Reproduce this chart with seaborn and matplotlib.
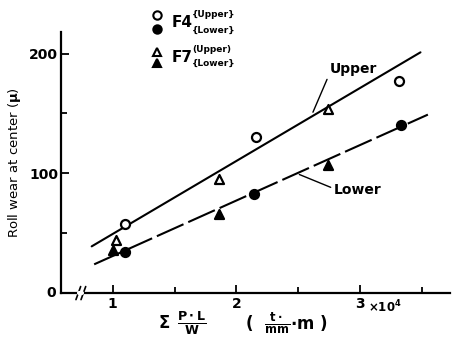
import numpy as np
import pandas as pd
import matplotlib
matplotlib.use("Agg")
import matplotlib.pyplot as plt
import seaborn as sns

# values (x in units of 1e4 t/mm*m, y in microns)
f4_upper_x = [1.10, 2.16, 3.32]
f4_upper_y = [58, 130, 177]
f4_lower_x = [1.10, 2.14, 3.33]
f4_lower_y = [34, 83, 140]
f7_upper_x = [1.03, 1.86, 2.74]
f7_upper_y = [44, 95, 154]
f7_lower_x = [1.00, 1.86, 2.74]
f7_lower_y = [36, 66, 107]

upper_line_x = [0.83, 3.49]
upper_line_y = [39, 201]
lower_line_x = [0.85, 3.55]
lower_line_y = [24, 149]

x_ticks = [1, 2, 3]
x_minor = [1.5, 2.5, 3.5]
y_ticks = [100, 200]
y_minor = [50, 150]

sns.set_style("ticks")
plt.rcParams['font.family'] = ['DejaVu Sans']
plt.rcParams['font.weight'] = 'bold'
plt.rcParams['text.color'] = 'black'
plt.rcParams['xtick.color'] = 'black'
plt.rcParams['ytick.color'] = 'black'
plt.rcParams['axes.labelcolor'] = 'black'
plt.rcParams['axes.edgecolor'] = 'black'

fig = plt.figure(figsize=(4.57, 3.4), dpi=100)
ax = fig.add_axes([0.133, 0.138, 0.852, 0.768])

series = [
    (f4_upper_x, f4_upper_y, 'o', 'white'),
    (f4_lower_x, f4_lower_y, 'o', 'black'),
    (f7_upper_x, f7_upper_y, '^', 'white'),
    (f7_lower_x, f7_lower_y, '^', 'black'),
]
for xs, ys, m, fc in series:
    df = pd.DataFrame({'x': xs, 'y': ys})
    sns.scatterplot(data=df, x='x', y='y', marker=m, s=42, facecolor=fc,
                    edgecolor='black', linewidth=1.6, ax=ax, zorder=3)

sns.lineplot(x=upper_line_x, y=upper_line_y, color='black', lw=1.5, ax=ax)
sns.lineplot(x=lower_line_x, y=lower_line_y, color='black', lw=1.5, ax=ax,
             dashes=False, linestyle=(0, (14, 2.5)))

ax.annotate('Upper', xy=(2.62, 151), xytext=(2.76, 187), fontsize=10,
            ha='left', va='center',
            arrowprops=dict(arrowstyle='-', color='black', lw=1, shrinkA=0, shrinkB=0,
                            relpos=(0, 0.3)))
ax.annotate('Lower', xy=(2.51, 99), xytext=(2.79, 86), fontsize=10,
            ha='left', va='center',
            arrowprops=dict(arrowstyle='-', color='black', lw=1, shrinkA=0, shrinkB=0,
                            relpos=(0, 0.6)))

ax.set_xlim(0.58, 3.73)
ax.set_ylim(0, 218)
ax.set_xticks(x_ticks)
ax.set_xticklabels([str(t) for t in x_ticks])
ax.set_xticks(x_minor, minor=True)
ax.set_yticks(y_ticks)
ax.set_yticklabels([str(t) for t in y_ticks])
ax.set_yticks(y_minor, minor=True)
ax.tick_params(which='both', direction='in', width=1.3, labelsize=10)
ax.tick_params(which='major', length=6)
ax.tick_params(which='minor', length=4)
ax.tick_params(axis='y', pad=2)
ax.tick_params(axis='x', pad=3)
sns.despine(ax=ax)
for s in ['left', 'bottom']:
    ax.spines[s].set_linewidth(1.6)

ax.set_xlabel('')
ax.set_ylabel('Roll wear at center ($\\mathbf{\\mu}$)', fontsize=9.5, labelpad=4)

# zero label and axis break
ax.text(-0.012, 0.0, '0', transform=ax.transAxes, ha='right', va='center', fontsize=10)
for dx in (0.045, 0.058):
    ax.plot([dx - 0.006, dx + 0.006], [-0.025, 0.025], transform=ax.transAxes,
            color='black', lw=1.2, clip_on=False)
ax.plot([0.048, 0.055], [0, 0], transform=ax.transAxes, color='white', lw=3,
        clip_on=False, zorder=5)

ax.text(0.875, -0.02, r'$\times\mathbf{10^4}$', transform=ax.transAxes, ha='right',
        va='top', fontsize=8.5)
fig.text(0.359, 0.05, r'$\mathbf{\Sigma}$', fontsize=12, ha='center', va='center')
fig.text(0.42, 0.05, r'$\frac{\mathbf{P\cdot L}}{\mathbf{W}}$', fontsize=13,
         ha='center', va='center')
fig.text(0.626, 0.05, r'(  $\frac{\mathbf{t\cdot}}{\mathbf{mm}}\mathbf{\cdot m}$ )',
         fontsize=12, ha='center', va='center')

# legend drawn by hand (sits above the top of the axes)
leg = [(1.065, 'o', 'white'), (1.011, 'o', 'black'),
       (0.923, '^', 'white'), (0.881, '^', 'black')]
for yy, m, fc in leg:
    ax.plot([0.246], [yy], marker=m, ms=6, mfc=fc, mec='black', mew=1.5,
            transform=ax.transAxes, clip_on=False, ls='none')
ax.text(0.285, 1.038, 'F4', transform=ax.transAxes, fontsize=11, va='center')
ax.text(0.285, 0.904, 'F7', transform=ax.transAxes, fontsize=11, va='center')
ax.text(0.337, 1.066, '{Upper}', transform=ax.transAxes, fontsize=6.5, va='center')
ax.text(0.337, 1.005, '{Lower}', transform=ax.transAxes, fontsize=6.5, va='center')
ax.text(0.337, 0.931, '(Upper)', transform=ax.transAxes, fontsize=6.5, va='center')
ax.text(0.337, 0.88, '{Lower}', transform=ax.transAxes, fontsize=6.5, va='center')

fig.savefig('out.png', dpi=100)
